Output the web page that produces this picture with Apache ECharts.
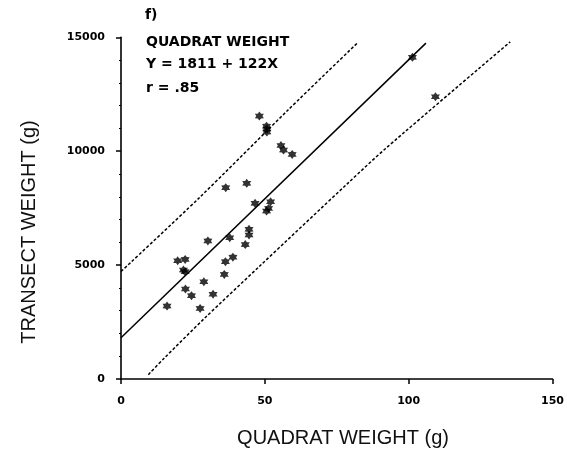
<!DOCTYPE html>
<html>
<head>
<meta charset="utf-8">
<script src="https://cdn.jsdelivr.net/npm/echarts@6/dist/echarts.min.js"></script>
<style>
  html, body { margin: 0; padding: 0; background: #fff; }
  #chart { width: 567px; height: 451px; }
</style>
</head>
<body>
<div id="chart"></div>
<script>
// Paired observations: quadrat weight (g) vs transect weight (g)
const quadratWeight = [
  48.1, 50.6, 50.7, 50.7, 55.6, 56.5, 59.5, 36.4, 43.7, 46.6, 52.0,
  51.3, 50.6, 44.5, 44.5, 37.8, 30.2, 43.2, 38.9, 36.3, 19.7, 22.3,
  21.7, 22.3, 35.9, 28.8, 22.4, 24.5, 32.0, 16.0, 27.5, 101.3, 109.3
];
const transectWeight = [
  11540, 11100, 10970, 10840, 10250, 10050, 9860, 8400, 8590, 7710, 7780,
  7490, 7370, 6570, 6320, 6200, 6060, 5900, 5350, 5150, 5190, 5250,
  4780, 4710, 4590, 4270, 3950, 3660, 3720, 3200, 3100, 14120, 12390
];

// Fitted line Y = 1811 + 122X and its limits
const intercept = 1811;
const slope = 122;
const fitRange = [0, 106];

// Upper and lower dashed limit curves
const upperBandX = [0, 27, 58, 82];
const upperBandY = [4720, 7930, 11800, 14730];
const lowerBandX = [9.5, 15, 29, 48, 79, 92, 135.3];
const lowerBandY = [190, 910, 2660, 4930, 8610, 10120, 14800];

// Axis ticks
const xTicks = { min: 0, max: 150, step: 50 };
const yTicks = { min: 0, max: 15000, step: 5000 };

// Panel annotation lines
const panelTag = 'f)';
const annotationLines = ['QUADRAT WEIGHT', 'Y = 1811 + 122X', 'r = .85'];
const xTitle = 'QUADRAT WEIGHT (g)';
const yTitle = 'TRANSECT WEIGHT (g)';

const points = quadratWeight.map((q, i) => [q, transectWeight[i]]);
const fitLine = fitRange.map(x => [x, intercept + slope * x]);
const upperBand = upperBandX.map((x, i) => [x, upperBandY[i]]);
const lowerBand = lowerBandX.map((x, i) => [x, lowerBandY[i]]);

// six-pointed filled star marker
const starPath = 'path://M0,-10 L3.2,-5.2 L8.7,-5 L6,0 L8.7,5 L3.2,5.2 L0,10 L-3.2,5.2 L-8.7,5 L-6,0 L-8.7,-5 L-3.2,-5.2 Z';

const tickFont = { fontFamily: 'DejaVu Sans', fontWeight: 'bold', fontSize: 11, color: '#000' };
const noteFont = { fontFamily: 'DejaVu Sans', fontWeight: 'bold', fontSize: 14, fill: '#000' };
const plain = v => String(v);

const chart = echarts.init(document.getElementById('chart'), null, { renderer: 'canvas' });

const graphics = [
  { type: 'text', left: 145, top: 8, style: Object.assign({ text: panelTag }, noteFont) },
  ...annotationLines.map((t, i) => ({
    type: 'text', left: 146, top: [35, 57, 81][i],
    style: Object.assign({ text: t }, noteFont)
  })),
  {
    type: 'text', x: 343, y: 438,
    style: { text: xTitle, fontFamily: 'Liberation Sans', fontSize: 20, fill: '#111',
             textAlign: 'center', textVerticalAlign: 'middle' }
  },
  {
    type: 'text', x: 29, y: 232, rotation: Math.PI / 2,
    style: { text: yTitle, fontFamily: 'Liberation Sans', fontSize: 20, fill: '#111',
             textAlign: 'center', textVerticalAlign: 'middle' }
  }
];

chart.setOption({
  animation: false,
  backgroundColor: '#fff',
  grid: { left: 121, right: 9.3, top: 37.3, bottom: 72, containLabel: false },
  xAxis: {
    type: 'value', min: xTicks.min, max: xTicks.max, interval: xTicks.step,
    offset: 5,
    axisLine: { show: true, lineStyle: { color: '#000', width: 1.6 } },
    axisTick: { show: true, length: 5, lineStyle: { color: '#000', width: 1.5 } },
    axisLabel: Object.assign({ margin: 12, formatter: plain }, tickFont),
    splitLine: { show: false }
  },
  yAxis: {
    type: 'value', min: yTicks.min, max: yTicks.max, interval: yTicks.step,
    offset: 4,
    axisLine: { show: true, lineStyle: { color: '#000', width: 1.6 } },
    axisTick: { show: true, length: 5, lineStyle: { color: '#000', width: 1.5 } },
    minorTick: { show: true, splitNumber: 5, length: 2, lineStyle: { color: '#000', width: 1 } },
    axisLabel: Object.assign({ margin: 12, formatter: plain }, tickFont),
    splitLine: { show: false }
  },
  graphic: graphics,
  series: [
    {
      type: 'line', data: upperBand, symbol: 'none', smooth: 0.3,
      lineStyle: { color: '#000', width: 1.5, type: [3, 2] }, z: 2
    },
    {
      type: 'line', data: lowerBand, symbol: 'none', smooth: 0.3,
      lineStyle: { color: '#000', width: 1.5, type: [3, 2] }, z: 2
    },
    {
      type: 'line', data: fitLine, symbol: 'none',
      lineStyle: { color: '#000', width: 1.5 }, z: 2
    },
    {
      type: 'scatter', data: points, symbol: starPath, symbolSize: 9,
      itemStyle: { color: '#000' }, z: 3
    }
  ]
});
</script>
</body>
</html>
